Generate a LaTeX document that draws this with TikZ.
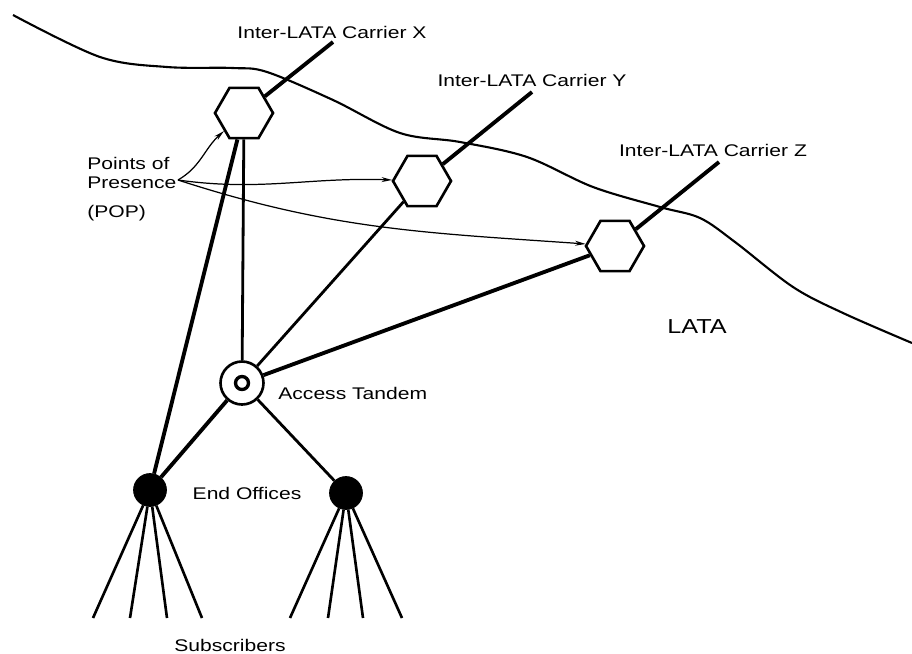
\documentclass[tikz,border=0pt]{standalone}
\usepackage{fontspec}
\setmainfont{Liberation Sans}[FakeStretch=1.25]
\usetikzlibrary{shapes.geometric,arrows.meta}
\begin{document}
\begin{tikzpicture}[x=0.02cm,y=-0.02cm,
  lbl/.style={font=\fontsize{9.6}{11}\selectfont, inner sep=0pt},
  pop/.style={draw, line width=1.5pt, regular polygon, regular polygon sides=6,
    minimum size=1.16cm, inner sep=0pt, fill=white},
  tandem/.style={draw, line width=1.5pt, circle, minimum size=0.86cm, inner sep=0pt, fill=white},
  endoff/.style={draw, circle, fill=black, minimum size=0.66cm, inner sep=0pt},
  trunk/.style={line width=2.2pt},
  link/.style={line width=1.6pt},
  loop/.style={line width=1.5pt},
  ptr/.style={line width=0.7pt, -{Stealth[length=6pt,width=2.8pt]}},
  border/.style={line width=1.2pt}]
\useasboundingbox (0,0) rectangle (912,653);

% LATA boundary
\draw[border] plot[smooth, tension=0.55] coordinates {
  (13,15) (100,57) (167,67) (233,68) (267,72) (333,100) (400,133) (460,142)
  (527,157) (593,187) (660,207) (700,218) (735,242) (793,287) (843,313) (912,343)};

% points of presence
\node[pop] (hx) at (244,113) {};
\node[pop] (hy) at (422,181) {};
\node[pop] (hz) at (615,246) {};

% switching offices
\node[tandem] (at) at (242,383) {};
\node[endoff] (eo1) at (150,490) {};
\node[endoff] (eo2) at (346,493) {};

% carrier trunk ends
\coordinate (cx) at (333,42);
\coordinate (cy) at (532,92);
\coordinate (cz) at (719,162);

% subscriber line ends
\coordinate (s1) at (93,618);
\coordinate (s2) at (130,618);
\coordinate (s3) at (167,618);
\coordinate (s4) at (202,618);
\coordinate (s5) at (290,618);
\coordinate (s6) at (328,618);
\coordinate (s7) at (363,618);
\coordinate (s8) at (402,618);

% connections
\draw[trunk] (hx) -- (cx);
\draw[trunk] (hy) -- (cy);
\draw[trunk] (hz) -- (cz);
\draw[trunk] (hx) -- (eo1);
\draw[link] (hx) -- (at);
\draw[link] (hy) -- (at);
\draw[trunk] (hz) -- (at);
\draw[trunk] (at) -- (eo1);
\draw[link] (at) -- (eo2);
\foreach \s in {s1,s2,s3,s4} \draw[loop] (eo1) -- (\s);
\foreach \s in {s5,s6,s7,s8} \draw[loop] (eo2) -- (\s);

% tandem inner ring
\draw[line width=1.9pt] (at.center) circle[radius=0.13cm];

% labels
\node[lbl] (lx) at (332,32) {Inter-LATA Carrier X};
\node[lbl] (ly) at (532,80) {Inter-LATA Carrier Y};
\node[lbl] (lz) at (713,150) {Inter-LATA Carrier Z};
\node[lbl, anchor=west] (p1) at (87,163) {Points of};
\node[lbl, anchor=west] (p2) at (87,183) {Presence};
\node[lbl, anchor=west] (p3) at (87,213) {(POP)};
\node[lbl, anchor=west] (lt) at (278,393) {Access Tandem};
\node[lbl] (le) at (247,493) {End Offices};
\node[lbl] (ls) at (230,645) {Subscribers};
\node[font=\fontsize{11.5}{13}\selectfont, inner sep=0pt] (ll) at (697,327) {LATA};

% pointers from the POP label
\coordinate (ps) at (178,180);
\draw[ptr] (ps) to[out=30, in=222] (hx);
\draw[ptr] (ps) to[out=-8, in=178] (hy);
\draw[ptr] (ps) to[out=-18, in=176] (hz);
\end{tikzpicture}
\end{document}
